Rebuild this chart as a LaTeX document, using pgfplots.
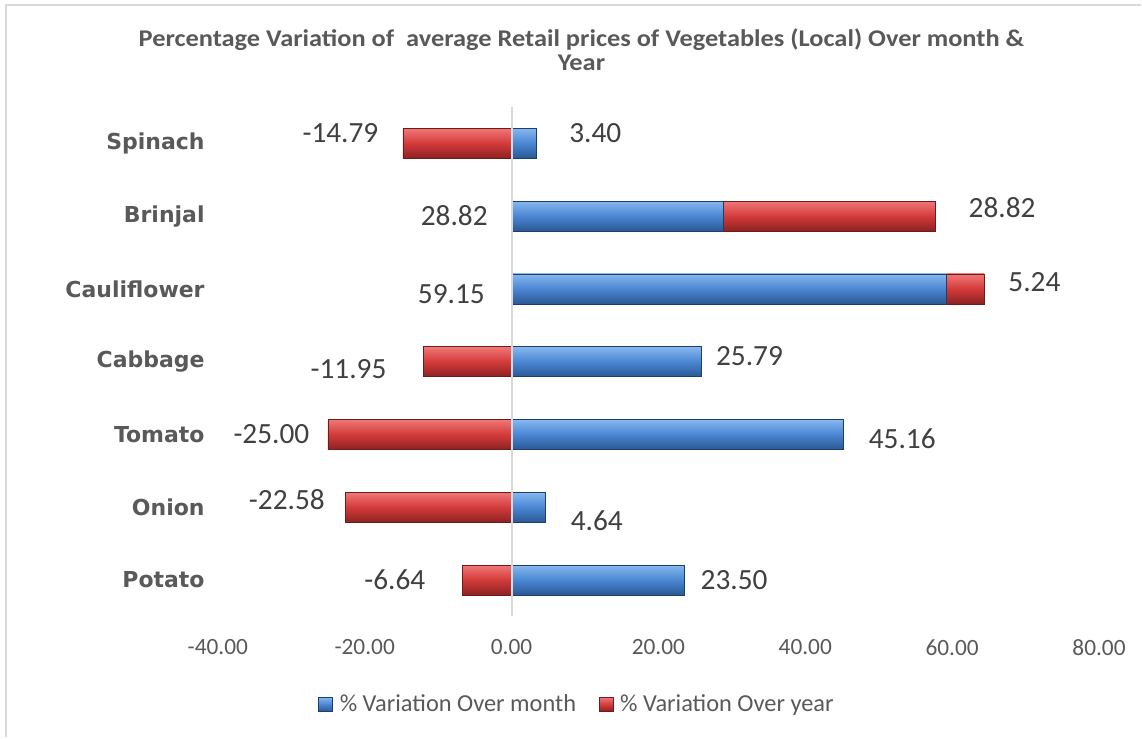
\documentclass[border=0pt]{standalone}
\usepackage{pgfplots}
\pgfplotsset{compat=1.18}
\usepackage{fontspec}
\setmainfont{Carlito}
\newfontfamily\catfont{DejaVu Sans}
\definecolor{txtgray}{HTML}{595959}
\definecolor{lblgray}{HTML}{404040}
\definecolor{framegray}{HTML}{D9D9D9}
\definecolor{bluetop}{HTML}{86B8F0}
\definecolor{bluemid}{HTML}{4A86D2}
\definecolor{bluebot}{HTML}{2A5894}
\definecolor{blueedge}{HTML}{1F3E69}
\definecolor{redtop}{HTML}{F07878}
\definecolor{redmid}{HTML}{D43A3A}
\definecolor{redbot}{HTML}{8C2222}
\definecolor{rededge}{HTML}{6E1B1B}
\pgfplotsset{
  monthbar/.style={draw=blueedge, line width=0.5pt, top color=bluetop, bottom color=bluebot, middle color=bluemid},
  yearbar/.style={draw=rededge, line width=0.5pt, top color=redtop, bottom color=redbot, middle color=redmid},
  onebar/.style={xbar, bar width=22.5pt, bar shift=0pt, forget plot},
}
\begin{document}
\begin{tikzpicture}
% 1 px of the reference = 0.75pt, y measured from the bottom
\path (0pt,0pt) rectangle (856.5pt,553.5pt);
\draw[framegray, line width=1.5pt] (4.5pt,0pt) -- (4.5pt,549.75pt) -- (856.5pt,549.75pt);
\node[font=\fontsize{18}{22}\selectfont\bfseries, text=txtgray, anchor=base, inner sep=0pt, xscale=1.1]
  at (436.5pt,518.3pt) {Percentage Variation of \ average Retail prices of Vegetables (Local) Over month \&};
\node[font=\fontsize{18}{22}\selectfont\bfseries, text=txtgray, anchor=base, inner sep=0pt, xscale=1.1]
  at (436.5pt,500.3pt) {Year};
\begin{axis}[
  at={(163.5pt,90.75pt)}, anchor=south west,
  width=661.5pt, height=382.5pt, scale only axis,
  xmin=-40, xmax=80, ymin=-0.5, ymax=6.5,
  xtick={-40,-20,0,20,40,60,80},
  xticklabels={-40.00,-20.00,0.00,20.00,40.00,60.00,80.00},
  ytick={0,1,2,3,4,5,6},
  yticklabels={Potato,Onion,Tomato,Cabbage,Cauliflower,Brinjal,Spinach},
  axis line style={draw=none}, major tick length=0pt,
  xticklabel style={font=\fontsize{17.5}{20}\selectfont, text=txtgray, anchor=center, yshift=-23.25pt},
  yticklabel style={font=\catfont\bfseries\fontsize{16.5}{18}\selectfont, text=txtgray, anchor=east, inner sep=0pt, xshift=-9.75pt},
  extra x ticks={0}, extra x tick labels={},
  extra x tick style={grid=major, major grid style={draw=framegray, line width=1.5pt}},
  axis on top, clip=false,
  legend columns=2,
  legend style={at={(0.408,-0.1725)}, anchor=center, draw=none, fill=none,
    font=\fontsize{18.3}{22}\selectfont, text=txtgray,
    /tikz/every odd column/.append style={column sep=3pt},
    /tikz/every even column/.append style={column sep=15pt}},
  legend image code/.code={\draw[#1] (0pt,-5.25pt) rectangle (10.5pt,5.25pt);},
]
% one plot per bar so each bar gets its own shading
% year bars first; the two positive ones run to the end of the stack (month + year)
\addplot[yearbar, onebar] coordinates {(-6.64,0)};
\addplot[yearbar, onebar] coordinates {(-22.58,1)};
\addplot[yearbar, onebar] coordinates {(-25.00,2)};
\addplot[yearbar, onebar] coordinates {(-11.95,3)};
\addplot[yearbar, onebar] coordinates {(64.39,4)};
\addplot[yearbar, onebar] coordinates {(57.64,5)};
\addplot[yearbar, onebar] coordinates {(-14.79,6)};
\addplot[monthbar, onebar] coordinates {(23.50,0)};
\addplot[monthbar, onebar] coordinates {(4.64,1)};
\addplot[monthbar, onebar] coordinates {(45.16,2)};
\addplot[monthbar, onebar] coordinates {(25.79,3)};
\addplot[monthbar, onebar] coordinates {(59.15,4)};
\addplot[monthbar, onebar] coordinates {(28.82,5)};
\addplot[monthbar, onebar] coordinates {(3.40,6)};
% data labels, at the places Excel put them
\addplot[draw=none, mark=none, forget plot, nodes near coords, point meta=explicit symbolic,
  nodes near coords style={anchor=center, font=\fontsize{22}{24}\selectfont, text=lblgray}]
  table[meta=lab] {
  x y lab
  -23.3 6.14 -14.79
  11.4 6.14 3.40
  -7.8 5.0 28.82
  66.8 5.11 28.82
  -8.2 3.93 59.15
  71.2 4.09 5.24
  -22.2 2.90 -11.95
  32.4 3.08 25.79
  -32.7 2.0 -25.00
  53.2 1.94 45.16
  -30.6 1.10 -22.58
  11.6 0.81 4.64
  -15.9 0.0 -6.64
  30.3 0.0 23.50
};
\addlegendimage{monthbar}
\addlegendentry{\% Variation Over month}
\addlegendimage{yearbar}
\addlegendentry{\% Variation Over year}
\end{axis}
\end{tikzpicture}
\end{document}
